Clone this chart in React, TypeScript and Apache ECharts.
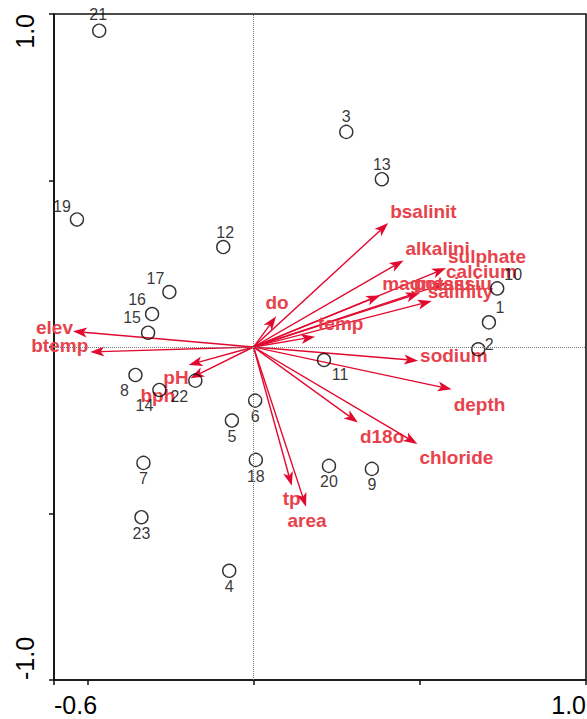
import React, { useEffect, useRef } from "react";
import * as echarts from "echarts";

// ---- data ----
const siteNames = ["1","2","3","4","5","6","7","8","9","10","11","12","13","14","15","16","17","18","19","20","21","22","23"];
const siteX = [0.708, 0.676, 0.279, -0.073, -0.065, 0.005, -0.331, -0.355, 0.356, 0.733, 0.212, -0.091, 0.386, -0.283, -0.317, -0.305, -0.253, 0.007, -0.531, 0.227, -0.464, -0.175, -0.337];
const siteY = [0.074, -0.007, 0.646, -0.672, -0.221, -0.161, -0.348, -0.084, -0.366, 0.176, -0.039, 0.300, 0.504, -0.129, 0.043, 0.099, 0.165, -0.339, 0.383, -0.357, 0.950, -0.101, -0.511];

const envNames = ["bsalinit","alkalini","sulphate","calcium","magnesiu","potassiu","salinity","do","temp","sodium","depth","d18o","chloride","tp","area","elev","btemp","pH","bph"];
const envX = [0.405, 0.451, 0.579, 0.579, 0.381, 0.500, 0.536, 0.068, 0.185, 0.495, 0.596, 0.314, 0.493, 0.115, 0.158, -0.543, -0.491, -0.195, -0.190];
const envY = [0.372, 0.260, 0.237, 0.192, 0.155, 0.162, 0.138, 0.092, 0.031, -0.041, -0.127, -0.227, -0.291, -0.417, -0.480, 0.047, -0.015, -0.054, -0.094];

const xTickValues = [-0.6, -0.5, 0, 0.5, 1.0];
const xLabelValues = [-0.6, 1.0];
const yTickValues = [-1.0, -0.5, 0, 0.5, 1.0];
const yLabelValues = [-1.0, 1.0];

// ---- layout / style ----
const siteLabelOffset: Record<string, [number, number]> = {
  "1": [11, -15], "2": [11, -5], "3": [0, -15], "4": [0, 16], "5": [0, 16], "6": [0, 16],
  "7": [0, 16], "8": [-11, 16], "9": [0, 16], "10": [16, -14], "11": [16, 15], "12": [2, -15],
  "13": [0, -15], "14": [-15, 16], "15": [-16, -15], "16": [-15, -15], "17": [-14, -14],
  "18": [0, 17], "19": [-15, -13], "20": [0, 16], "21": [-1, -16], "22": [-16, 16], "23": [0, 16],
};
const envLabelLayout: Record<string, [number, number, string]> = {
  bsalinit: [2, -12, "left"], alkalini: [2, -12, "left"], sulphate: [2, -12, "left"],
  calcium: [0, -12, "left"], magnesiu: [2, -12, "left"], potassiu: [-6, -10, "left"],
  salinity: [-4, -10, "left"], do: [1, -14, "center"], temp: [3, -13, "left"],
  sodium: [2, -5, "left"], depth: [2, 15, "left"], d18o: [2, 14, "left"],
  chloride: [2, 14, "left"], tp: [0, 13, "center"], area: [1, 14, "center"],
  elev: [0, -4, "right"], btemp: [-2, -6, "right"], pH: [0, 13, "right"], bph: [-15, 17, "right"],
};
const arrowColor = "#e2092f";
const labelColor = "#e8434c";
const FONT = '"Liberation Sans", Arial, Helvetica, sans-serif';

export default function App() {
  const ref = useRef<HTMLDivElement>(null);
  useEffect(() => {
    if (!ref.current) return;
    const chart = echarts.init(ref.current, null, { renderer: "svg" });
    const fmt = (v: number) => v.toFixed(1);
    const option: any = {
      animation: false,
      backgroundColor: "#fff",
      grid: {
        left: 54, right: 1, top: 14, bottom: 39,
        show: true, borderColor: "#111", borderWidth: 1.6, backgroundColor: "transparent",
        outerBoundsMode: "none",
      },
      xAxis: {
        type: "value", min: -0.6, max: 1.0,
        axisLine: { show: true, onZero: false, lineStyle: { color: "#111", width: 1.6 } },
        axisTick: { show: true, inside: false, length: 5, customValues: xTickValues, lineStyle: { color: "#111", width: 1.5 } },
        axisLabel: {
          show: true, customValues: xLabelValues, formatter: fmt, fontSize: 25, color: "#000",
          fontFamily: FONT, margin: 12, alignMinLabel: "left", alignMaxLabel: "right",
        },
        splitLine: { show: false },
      },
      yAxis: {
        type: "value", min: -1.0, max: 1.0,
        axisLine: { show: true, onZero: false, lineStyle: { color: "#111", width: 1.6 } },
        axisTick: { show: true, inside: false, length: 5, customValues: yTickValues, lineStyle: { color: "#111", width: 1.5 } },
        axisLabel: {
          show: true, customValues: yLabelValues, formatter: fmt, fontSize: 25, color: "#000",
          fontFamily: FONT, margin: 17, rotate: 90, alignMinLabel: "left", alignMaxLabel: "right",
        },
        splitLine: { show: false },
      },
      series: [
        {
          type: "custom",
          coordinateSystem: "cartesian2d",
          z: 2,
          silent: true,
          data: envX.map((x, i) => [x, envY[i]]),
          encode: { x: 0, y: 1 },
          renderItem: (params: any, api: any) => {
            const idx = params.dataIndex;
            const o = api.coord([0, 0]);
            const p = api.coord([api.value(0), api.value(1)]);
            const dx = p[0] - o[0], dy = p[1] - o[1];
            const len = Math.hypot(dx, dy) || 1;
            const ux = dx / len, uy = dy / len;
            const hl = 14, hw = 5;
            const base = [p[0] - ux * hl, p[1] - uy * hl];
            const notch = [p[0] - ux * hl * 0.75, p[1] - uy * hl * 0.75];
            const left = [base[0] - uy * hw, base[1] + ux * hw];
            const right = [base[0] + uy * hw, base[1] - ux * hw];
            const name = envNames[idx];
            const lay = envLabelLayout[name] || [2, -12, "left"];
            return {
              type: "group",
              children: [
                { type: "line", shape: { x1: o[0], y1: o[1], x2: notch[0], y2: notch[1] }, style: { stroke: arrowColor, lineWidth: 1.4 } },
                { type: "polygon", shape: { points: [p, left, notch, right] }, style: { fill: arrowColor } },
                {
                  type: "text", x: p[0] + lay[0], y: p[1] + lay[1],
                  style: { text: name, fill: labelColor, font: `bold 19px ${FONT}`, align: lay[2], verticalAlign: "middle" },
                },
              ],
            };
          },
        },
        {
          type: "scatter",
          z: 3,
          symbol: "circle",
          symbolSize: 13,
          itemStyle: { color: "rgba(0,0,0,0)", borderColor: "#000", borderWidth: 1.4 },
          label: {
            show: true, position: "inside", formatter: "{b}", color: "#000",
            fontSize: 16, fontFamily: FONT, align: "center", verticalAlign: "middle",
          },
          data: siteX.map((x, i) => ({
            name: siteNames[i],
            value: [x, siteY[i]],
            label: { offset: siteLabelOffset[siteNames[i]] || [0, 16] },
          })),
          markLine: {
            silent: true,
            symbol: "none",
            label: { show: false },
            lineStyle: { color: "#777", type: [1, 1], width: 1 },
            data: [{ xAxis: 0 }, { yAxis: 0 }],
          },
        },
      ],
    };
    chart.setOption(option);
    return () => chart.dispose();
  }, []);
  return <div ref={ref} style={{ position: "fixed", left: 0, top: 0, width: 587, height: 719, background: "#fff" }} />;
}
